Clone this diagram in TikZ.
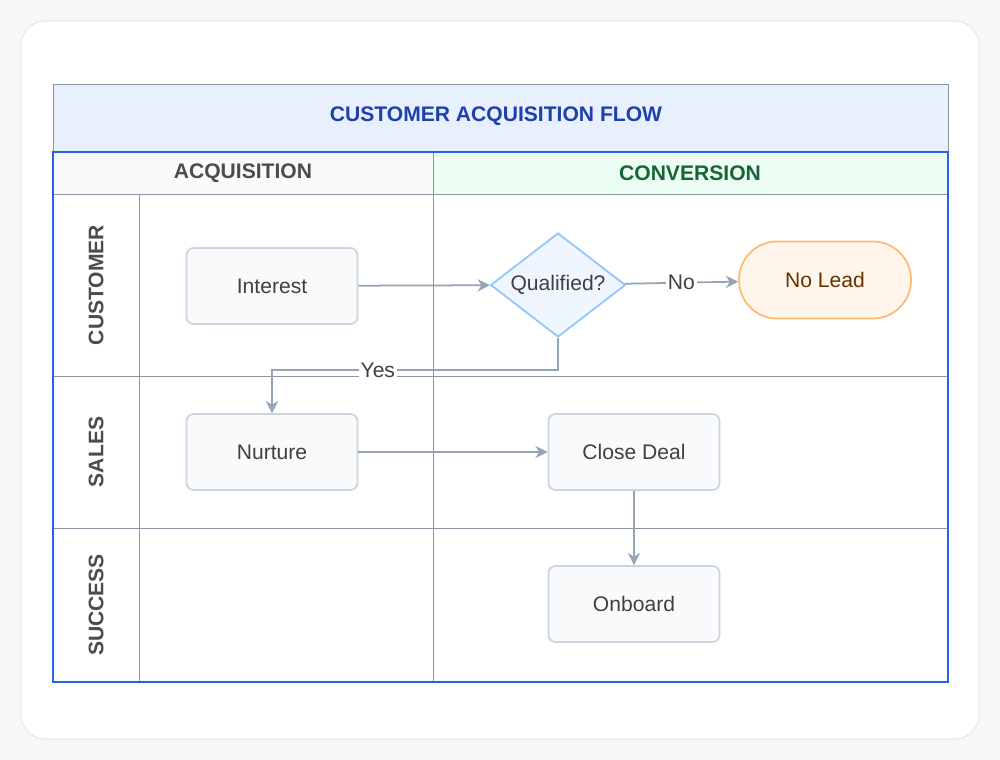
\documentclass[tikz,border=0pt]{standalone}
\usepackage{fontspec}
\setmainfont{Liberation Sans}
\usetikzlibrary{shapes.geometric,arrows.meta}
\definecolor{edgegray}{HTML}{94A3B8}
\definecolor{gridgray}{HTML}{8C96A3}
\definecolor{boxline}{HTML}{CBD5E1}
\definecolor{boxfill}{HTML}{F8FAFC}
\definecolor{titleblue}{HTML}{1E40AF}
\definecolor{titlefill}{HTML}{E8EFFD}
\definecolor{framblue}{HTML}{2563EB}
\definecolor{qline}{HTML}{93C5FD}
\definecolor{qfill}{HTML}{EFF6FF}
\definecolor{convgreen}{HTML}{166534}
\definecolor{convfill}{HTML}{ECFDF3}
\tikzset{
  flowbox/.style={draw=boxline, fill=boxfill, rounded corners=4pt, line width=1pt, minimum width=3.42cm, minimum height=1.52cm, font=\large, text=black!75},
  flow/.style={->, >={Stealth[length=7pt,width=7pt]}, draw=edgegray, line width=1pt},
  lane/.style={rotate=90, font=\large\bfseries, text=black!70},
}
\begin{document}
\begin{tikzpicture}[x=0.02cm, y=-0.02cm]
    \useasboundingbox (0,0) rectangle (1000,760);
    \fill[black!3] (0,0) rectangle (1000,760);
    \draw[black!12, fill=white, rounded corners=14pt] (21,21) rectangle (979,739);

    % Title and headers
    \draw[gridgray, fill=titlefill] (53,84) rectangle (948,152);
    \node (title) at (496,116) {\large\bfseries\color{titleblue}CUSTOMER ACQUISITION FLOW};
    \draw[gridgray, fill=boxfill] (53,152) rectangle (433,194);
    \draw[gridgray, fill=convfill] (433,152) rectangle (948,194);
    \node (acq) at (243,173) {\large\bfseries\color{black!70}ACQUISITION};
    \node (conv) at (690,173) {\large\bfseries\color{convgreen}CONVERSION};

    % Lanes
    \draw[gridgray] (53,194) -- (948,194);
    \draw[gridgray] (53,376) -- (948,376);
    \draw[gridgray] (53,528) -- (948,528);
    \draw[gridgray] (139,194) -- (139,682);
    \draw[gridgray] (433,152) -- (433,682);
    \draw[framblue, line width=1.2pt] (53,152) rectangle (948,682);
    \node[lane] (lcust) at (96,285) {CUSTOMER};
    \node[lane] (lsales) at (96,452) {SALES};
    \node[lane] (lsucc) at (96,605) {SUCCESS};

    % Nodes
    \node[flowbox] (interest) at (272,286) {Interest};
    \node[diamond, aspect=1.3, draw=qline, fill=qfill, line width=1pt, minimum width=2.7cm, minimum height=2.08cm, inner sep=0pt, font=\large, text=black!75] (qual) at (558,285) {Qualified?};
    \node[draw=orange!55, fill=orange!8, rounded corners=0.76cm, line width=1pt, minimum width=3.44cm, minimum height=1.54cm, font=\large, text=orange!40!black] (nolead) at (825,280) {No Lead};
    \node[flowbox] (nurture) at (272,452) {Nurture};
    \node[flowbox] (close) at (634,452) {Close Deal};
    \node[flowbox] (onboard) at (634,604) {Onboard};
    \coordinate (ybend) at (558,370);

    % Connectors
    \draw[flow] (interest) -- (qual);
    \draw[flow] (qual) -- node[fill=white, inner sep=1pt, font=\large, text=black!75] {No} (nolead);
    \draw[flow] (qual.south) -- (ybend) -- node[pos=0.63, fill=white, inner sep=1pt, font=\large, text=black!75] {Yes} (ybend -| nurture) -- (nurture);
    \draw[flow] (nurture) -- (close);
    \draw[flow] (close) -- (onboard);
\end{tikzpicture}
\end{document}
